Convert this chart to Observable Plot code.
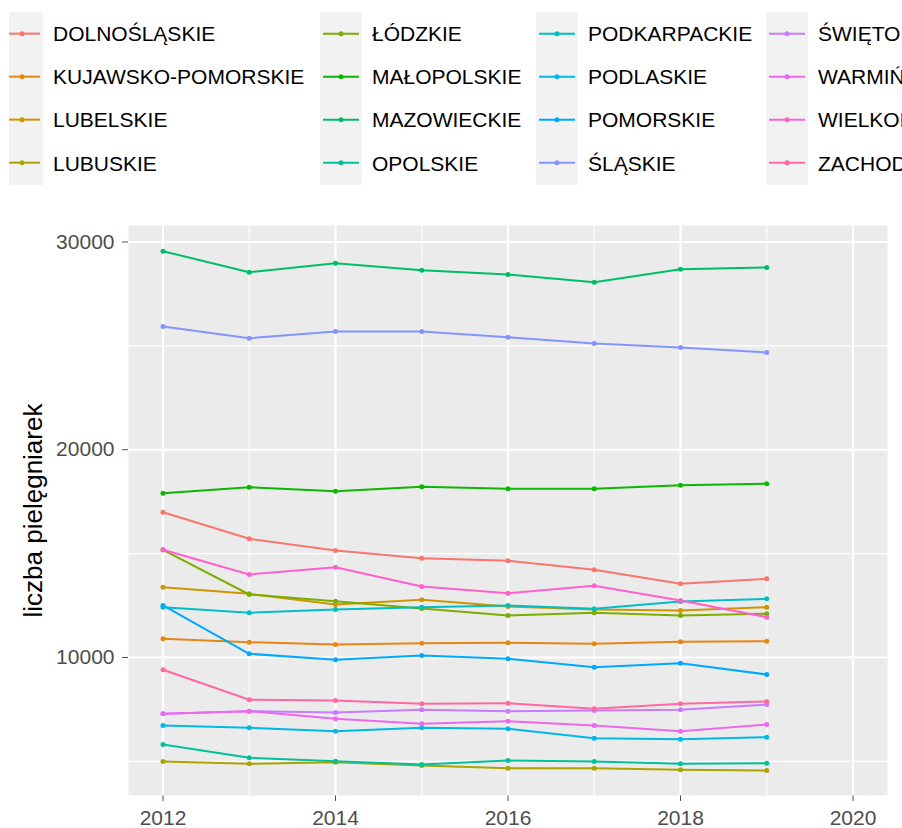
<!DOCTYPE html>
<html>
<head>
<meta charset="utf-8">
<script src="https://cdn.jsdelivr.net/npm/d3@7"></script>
<script src="https://cdn.jsdelivr.net/npm/@observablehq/plot@0.6"></script>
<style>
  html, body { margin: 0; padding: 0; background: #fff; overflow: hidden; }
  #wrap { width: 902px; height: 828px; position: relative; overflow: hidden; font-family: "Liberation Sans", Arial, Helvetica, sans-serif; }
  #legend { position: relative; width: 902px; height: 200px; overflow: hidden; }
  .strip { position: absolute; background: #F2F2F2; }
  .lab { position: absolute; font-size: 21px; color: #000; white-space: nowrap; line-height: 1; }
  .key { position: absolute; }
</style>
</head>
<body>
<div id="wrap">
  <div id="legend"></div>
  <div id="chart"></div>
</div>
<script>
const years = [2012, 2013, 2014, 2015, 2016, 2017, 2018, 2019];
const regions = ["DOLNOŚLĄSKIE", "KUJAWSKO-POMORSKIE", "LUBELSKIE", "LUBUSKIE",
  "ŁÓDZKIE", "MAŁOPOLSKIE", "MAZOWIECKIE", "OPOLSKIE",
  "PODKARPACKIE", "PODLASKIE", "POMORSKIE", "ŚLĄSKIE",
  "ŚWIĘTOKRZYSKIE", "WARMIŃSKO-MAZURSKIE", "WIELKOPOLSKIE", "ZACHODNIOPOMORSKIE"];
const colors = ["#F8766D", "#E68613", "#CD9600", "#ABA300", "#7CAE00", "#0CB702", "#00BE67", "#00C19A",
  "#00BFC4", "#00B8E7", "#00A9FF", "#8494FF", "#C77CFF", "#ED68ED", "#FF61CC", "#FF68A1"];

const dolnoslaskie  = [16995, 15715, 15152, 14782, 14656, 14223, 13549, 13790];
const kujawskoPom   = [10900, 10736, 10626, 10688, 10707, 10659, 10755, 10785];
const lubelskie     = [13384, 13066, 12551, 12777, 12455, 12310, 12262, 12421];
const lubuskie      = [4994, 4883, 4960, 4801, 4671, 4671, 4595, 4561];
const lodzkie       = [15184, 13032, 12710, 12359, 12022, 12151, 12022, 12103];
const malopolskie   = [17910, 18198, 18006, 18218, 18122, 18122, 18295, 18362];
const mazowieckie   = [29557, 28546, 28980, 28643, 28436, 28065, 28691, 28773];
const opolskie      = [5812, 5172, 5008, 4849, 5042, 4994, 4885, 4913];
const podkarpackie  = [12421, 12151, 12310, 12421, 12503, 12344, 12695, 12825];
const podlaskie     = [6727, 6616, 6452, 6616, 6568, 6115, 6067, 6163];
const pomorskie     = [12503, 10178, 9889, 10096, 9937, 9533, 9726, 9182];
const slaskie       = [25933, 25370, 25692, 25692, 25418, 25115, 24922, 24682];
const swietokrzyskie= [7290, 7415, 7352, 7482, 7415, 7449, 7482, 7738];
const warminsko     = [7290, 7415, 7049, 6809, 6934, 6727, 6452, 6775];
const wielkopolskie = [15186, 13997, 14348, 13419, 13097, 13453, 12746, 11942];
const zachodniopom  = [9408, 7964, 7930, 7771, 7800, 7531, 7771, 7880];

const series = [dolnoslaskie, kujawskoPom, lubelskie, lubuskie, lodzkie, malopolskie, mazowieckie, opolskie,
  podkarpackie, podlaskie, pomorskie, slaskie, swietokrzyskie, warminsko, wielkopolskie, zachodniopom];

const xTicks = [2012, 2014, 2016, 2018, 2020];
const xMinor = [2013, 2015, 2017, 2019];
const yTicks = [10000, 20000, 30000];
const yMinor = [5000, 15000, 25000];
const yTitle = ["liczba pielęgniarek"];

const rows = regions.flatMap((r, i) => years.map((yr, j) => ({region: r, year: yr, value: series[i][j]})));

// Legend (HTML)
const legend = document.getElementById("legend");
const keyX = [1, 320, 536, 766];
const rowH = 43.3, top0 = 11.5, keyW = 42;
keyX.forEach((kx, ci) => {
  const s = document.createElement("div");
  s.className = "strip";
  const left = ci === 0 ? 9 : kx;
  s.style.left = left + "px"; s.style.top = top0 + "px";
  s.style.width = (kx + keyW - left) + "px"; s.style.height = (rowH * 4) + "px";
  legend.appendChild(s);
});
regions.forEach((r, i) => {
  const col = Math.floor(i / 4), row = i % 4;
  const cy = top0 + rowH * row + rowH / 2;
  const svgNS = "http://www.w3.org/2000/svg";
  const k = document.createElementNS(svgNS, "svg");
  k.setAttribute("class", "key");
  k.setAttribute("width", keyW); k.setAttribute("height", rowH);
  k.style.left = keyX[col] + "px"; k.style.top = (cy - rowH / 2) + "px";
  const ln = document.createElementNS(svgNS, "line");
  ln.setAttribute("x1", col === 0 ? 8 : 3); ln.setAttribute("x2", keyW - 3);
  ln.setAttribute("y1", rowH / 2); ln.setAttribute("y2", rowH / 2);
  ln.setAttribute("stroke", colors[i]); ln.setAttribute("stroke-width", 2);
  const c = document.createElementNS(svgNS, "circle");
  c.setAttribute("cx", keyW / 2); c.setAttribute("cy", rowH / 2); c.setAttribute("r", 2.5);
  c.setAttribute("fill", colors[i]);
  k.appendChild(ln); k.appendChild(c);
  legend.appendChild(k);
  const t = document.createElement("div");
  t.className = "lab";
  t.textContent = r;
  t.style.left = (keyX[col] + keyW + 10) + "px";
  t.style.top = (cy - 10.5) + "px";
  legend.appendChild(t);
});

const chart = Plot.plot({
  width: 902,
  height: 628,
  marginTop: 25,
  marginBottom: 33,
  marginLeft: 128,
  marginRight: 15,
  style: {fontFamily: "'Liberation Sans', Arial, Helvetica, sans-serif", fontSize: "21px", color: "#4D4D4D", background: "white"},
  x: {domain: [2011.6, 2020.4], ticks: xTicks, tickFormat: d => String(d), tickSize: 6, tickPadding: 9, label: null},
  y: {domain: [3357, 30794], ticks: yTicks, tickFormat: d => String(d), tickSize: 6, tickPadding: 8, label: null},
  color: {domain: regions, range: colors},
  marks: [
    Plot.frame({fill: "#EBEBEB", stroke: null}),
    Plot.ruleX(xMinor, {stroke: "white", strokeWidth: 1.1}),
    Plot.ruleY(yMinor, {stroke: "white", strokeWidth: 1.1}),
    Plot.ruleX(xTicks, {stroke: "white", strokeWidth: 2.2}),
    Plot.ruleY(yTicks, {stroke: "white", strokeWidth: 2.2}),
    Plot.line(rows, {x: "year", y: "value", z: "region", stroke: "region", strokeWidth: 2}),
    Plot.dot(rows, {x: "year", y: "value", fill: "region", r: 2.5}),
    Plot.text(yTitle, {frameAnchor: "left", textAnchor: "middle", rotate: -90, dx: -95, fontSize: 26, fill: "#000", text: d => d})
  ]
});
document.getElementById("chart").appendChild(chart);
</script>
</body>
</html>
